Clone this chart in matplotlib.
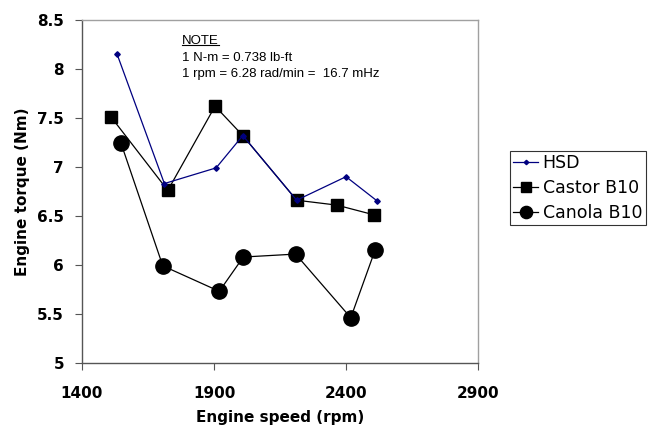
import matplotlib
matplotlib.use("Agg")
import matplotlib.pyplot as plt
from matplotlib.lines import Line2D

plt.rcParams['font.family'] = ['Liberation Sans', 'DejaVu Sans']

# data
hsd_rpm = [1533, 1712, 1908, 2009, 2213, 2400, 2519]
hsd_torque = [8.15, 6.83, 6.99, 7.32, 6.66, 6.90, 6.65]

castor_rpm = [1510, 1725, 1904, 2009, 2213, 2365, 2507]
castor_torque = [7.51, 6.76, 7.62, 7.32, 6.66, 6.61, 6.51]

canola_rpm = [1548, 1706, 1920, 2011, 2209, 2418, 2510]
canola_torque = [7.24, 5.99, 5.73, 6.08, 6.11, 5.46, 6.15]

x_ticks = [1400, 1900, 2400, 2900]
y_ticks = [5, 5.5, 6, 6.5, 7, 7.5, 8, 8.5]
y_tick_labels = ['5', '5.5', '6', '6.5', '7', '7.5', '8', '8.5']

bold_font = {'family': 'DejaVu Sans', 'weight': 'bold'}

fig = plt.figure(figsize=(6.56, 4.34), dpi=100)
ax = fig.add_axes([0.125, 0.164, 0.6037, 0.790])

ax.plot(hsd_rpm, hsd_torque, color='#000080', lw=0.9, marker='D', ms=2.8,
        label='HSD', zorder=3)
ax.plot(castor_rpm, castor_torque, color='black', lw=0.9, marker='s', ms=8.5,
        label='Castor B10', zorder=2)
ax.plot(canola_rpm, canola_torque, color='black', lw=0.9, marker='o', ms=11,
        label='Canola B10', zorder=2)

ax.set_xlim(1400, 2900)
ax.set_ylim(5, 8.5)
ax.set_xticks(x_ticks)
ax.set_yticks(y_ticks)
ax.set_yticklabels(y_tick_labels)

for side in ['top', 'right']:
    ax.spines[side].set_color('#a0a0a0')
    ax.spines[side].set_linewidth(1.0)
for side in ['left', 'bottom']:
    ax.spines[side].set_color('#555555')
    ax.spines[side].set_linewidth(1.0)

ax.tick_params(axis='both', direction='out', length=5, width=0.8,
               color='#555555')
ax.tick_params(axis='x', pad=12)
ax.tick_params(axis='y', pad=8)
for lab in ax.get_xticklabels() + ax.get_yticklabels():
    lab.set_fontfamily('DejaVu Sans')
    lab.set_fontweight('bold')
    lab.set_fontsize(11)

ax.set_xlabel('Engine speed (rpm)', fontdict=bold_font, fontsize=11, labelpad=6)
ax.set_ylabel('Engine torque (Nm)', fontdict=bold_font, fontsize=11, labelpad=5)

# note
note = ax.text(0.253, 0.940, 'NOTE', transform=ax.transAxes, fontsize=9.5,
               va='center', ha='left')
ax.text(0.253, 0.890, '1 N-m = 0.738 lb-ft', transform=ax.transAxes,
        fontsize=9.5, va='center', ha='left')
ax.text(0.253, 0.842, '1 rpm = 6.28 rad/min =  16.7 mHz', transform=ax.transAxes,
        fontsize=9.5, va='center', ha='left')
fig.canvas.draw()
bb = note.get_window_extent().transformed(fig.transFigure.inverted())
fig.add_artist(Line2D([bb.x0, bb.x1], [bb.y0 + 0.003, bb.y0 + 0.003],
                      color='black', lw=0.8, transform=fig.transFigure))

leg = fig.legend(loc='upper left', bbox_to_anchor=(0.777, 0.653),
                 prop={'family': 'DejaVu Sans', 'size': 12.5},
                 frameon=True, fancybox=False, handlelength=1.45,
                 handletextpad=0.25, borderpad=0.2, labelspacing=0.4,
                 borderaxespad=0, markerscale=0.8)
leg.get_frame().set_edgecolor('black')
leg.get_frame().set_linewidth(0.8)

fig.savefig('out.png', dpi=100)
